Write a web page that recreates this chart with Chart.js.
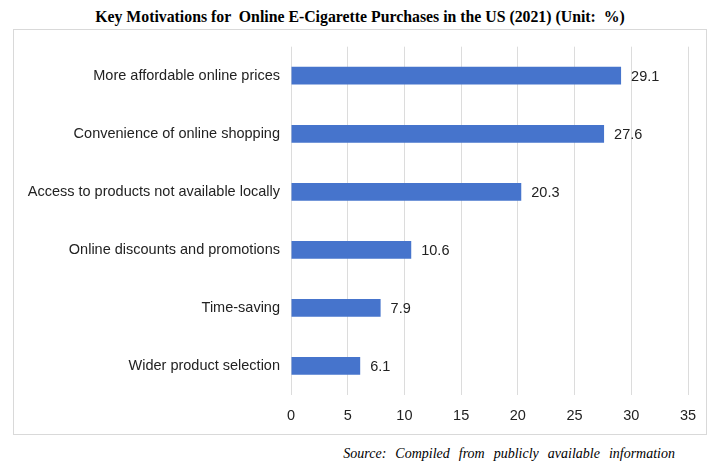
<!DOCTYPE html>
<html>
<head>
<meta charset="utf-8">
<script src="https://cdn.jsdelivr.net/npm/chart.js@4"></script>
<style>
  html, body { margin: 0; padding: 0; background: #fff; }
  body { width: 722px; height: 468px; position: relative; overflow: hidden; }
  #title {
    position: absolute; left: 0; top: 8px; width: 720px; text-align: center;
    font: bold 15.8px "Liberation Serif", "Times New Roman", serif; color: #000;
    white-space: pre;
  }
  #box {
    position: absolute; left: 13px; top: 29px; width: 692px; height: 404px;
    border: 1px solid #d9d9d9;
  }
  #source {
    position: absolute; right: 47px; top: 446px;
    font: italic 14px "Liberation Serif", "Times New Roman", serif; color: #000;
    word-spacing: 5.5px; white-space: pre;
  }
</style>
</head>
<body>
<div id="title">Key Motivations for  Online E-Cigarette Purchases in the US (2021) (Unit:  %)</div>
<div id="box"><canvas id="chart" width="692" height="404"></canvas></div>
<div id="source">Source: Compiled from publicly available information</div>
<script>
const categories = [
    'More affordable online prices',
    'Convenience of online shopping',
    'Access to products not available locally',
    'Online discounts and promotions',
    'Time-saving',
    'Wider product selection'
];
const shares = [29.1, 27.6, 20.3, 10.6, 7.9, 6.1];
const axisMax = 35;
const axisStep = 5;

const labelFont = { family: '"Liberation Sans", Arial, Helvetica, sans-serif', size: 14.5 };

// value text to the right of each bar
const valueLabels = {
    id: 'valueLabels',
    afterDatasetsDraw(chart) {
        const ctx = chart.ctx;
        const meta = chart.getDatasetMeta(0);
        ctx.save();
        ctx.font = '14.5px "Liberation Sans", Arial, sans-serif';
        ctx.fillStyle = '#222';
        ctx.textAlign = 'left';
        ctx.textBaseline = 'middle';
        meta.data.forEach((bar, i) => {
            ctx.fillText(shares[i].toFixed(1), bar.x + 10, bar.y + 1);
        });
        ctx.restore();
    }
};

const ctx = document.getElementById('chart').getContext('2d');
new Chart(ctx, {
    type: 'bar',
    data: {
        labels: categories,
        datasets: [{
            data: shares,
            backgroundColor: '#4674cc',
            borderWidth: 0,
            categoryPercentage: 1,
            barPercentage: 0.305
        }]
    },
    options: {
        indexAxis: 'y',
        responsive: false,
        animation: false,
        layout: { padding: { top: 16.7, right: 18, bottom: 0, left: 0 } },
        plugins: {
            legend: { display: false },
            tooltip: { enabled: false }
        },
        scales: {
            x: {
                min: 0,
                max: axisMax,
                ticks: { stepSize: axisStep, color: '#222', font: labelFont, padding: 12 },
                grid: { color: '#dcdcdc', drawTicks: false },
                border: { display: false },
                afterFit: function (scale) {
                    scale.height = 39;
                    scale.paddingLeft = 0;
                    scale.paddingRight = 0;
                }
            },
            y: {
                ticks: { color: '#222', font: labelFont, padding: 11 },
                grid: { display: false, drawTicks: false },
                border: { display: false },
                afterFit: function (scale) {
                    scale.width = 277;
                    // labels sit mid-band, so no extra room above/below needed
                    scale.paddingTop = 0;
                    scale.paddingBottom = 0;
                }
            }
        }
    },
    plugins: [valueLabels]
});
</script>
</body>
</html>
